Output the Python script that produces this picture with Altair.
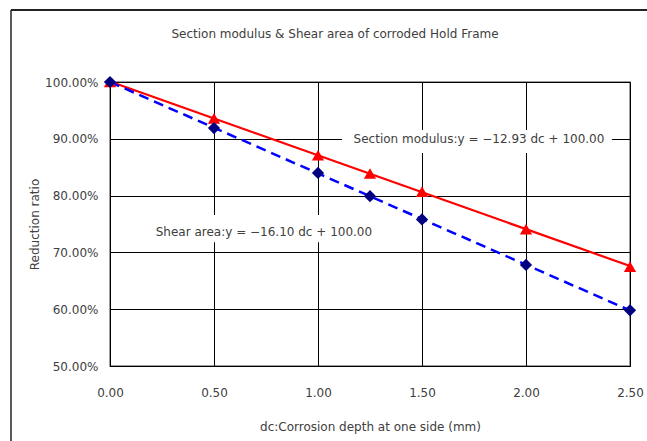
import altair as alt
import pandas as pd

# Corrosion depth at one side (mm)
dc = [0.0, 0.5, 1.0, 1.25, 1.5, 2.0, 2.5]
# Reduction ratio (%) of each property
section_modulus = [100.0, 93.6, 87.1, 83.9, 80.7, 74.1, 67.5]
shear_area = [100.0, 91.9, 84.0, 79.9, 75.8, 67.8, 59.8]

series_names = ["Section modulus", "Shear area"]
fit_labels = ["Section modulus:y = −12.93 dc + 100.00",
              "Shear area:y = −16.10 dc + 100.00"]

df = pd.DataFrame({
    "dc": dc * 2,
    "ratio": section_modulus + shear_area,
    "series": [series_names[0]] * len(dc) + [series_names[1]] * len(dc),
})
one_row = pd.DataFrame({"k": [0]})

FONT = "DejaVu Sans"
TEXT = "#404040"
W, H = 520, 284

x_scale = alt.Scale(domain=[0, 2.5], nice=False)
y_scale = alt.Scale(domain=[50, 100], nice=False)

x_enc = alt.X("dc:Q", scale=x_scale,
              axis=alt.Axis(values=[0, 0.5, 1.0, 1.5, 2.0, 2.5], format=".2f",
                            title="dc:Corrosion depth at one side (mm)",
                            grid=True, gridColor="black", gridOpacity=1,
                            domainColor="black", tickSize=0, labelPadding=21,
                            labelFontSize=12, labelColor=TEXT, labelFont=FONT,
                            titleFont=FONT, titleFontSize=12, titleFontWeight="normal",
                            titleColor=TEXT, titlePadding=23, labelFlush=False))
y_enc = alt.Y("ratio:Q", scale=y_scale,
              axis=alt.Axis(values=[50, 60, 70, 80, 90, 100],
                            labelExpr="format(datum.value, '.2f') + '%'",
                            title="Reduction ratio",
                            grid=True, gridColor="black", gridOpacity=1,
                            domainColor="black", tickSize=0, labelPadding=12,
                            labelFontSize=12, labelColor=TEXT, labelFont=FONT,
                            titleFont=FONT, titleFontSize=12, titleFontWeight="normal",
                            titleColor=TEXT, titlePadding=3, labelFlush=False))

base = alt.Chart(df)

red = base.transform_filter(alt.datum.series == series_names[0])
blue = base.transform_filter(alt.datum.series == series_names[1])

# linear trend lines through each series
red_fit = red.transform_regression("dc", "ratio").mark_line(
    color="#FF0000", strokeWidth=2.2).encode(x=x_enc, y=y_enc)
blue_fit = blue.transform_regression("dc", "ratio").mark_line(
    color="#0000FF", strokeWidth=2.5, strokeDash=[10, 6]).encode(x=x_enc, y=y_enc)

red_pts = red.mark_point(shape="triangle-up", filled=True, size=150,
                         color="#FF0000", opacity=1).encode(x=x_enc, y=y_enc)
blue_pts = blue.mark_point(shape="diamond", filled=True, size=150,
                           color="#000080", opacity=1).encode(x=x_enc, y=y_enc)

# white boxes behind the equation labels
box_df = pd.DataFrame({
    "x1": [1.115, 0.159], "x2": [2.413, 1.3125],
    "y1": [87.5, 71.8], "y2": [91.55, 76.6],
})
boxes = alt.Chart(box_df).mark_rect(color="white").encode(
    x=alt.X("x1:Q", scale=x_scale), x2="x2:Q",
    y=alt.Y("y1:Q", scale=y_scale), y2="y2:Q")

lab_df = pd.DataFrame({"x": [1.774, 0.74], "y": [89.96, 73.6], "text": fit_labels})
labels = alt.Chart(lab_df).mark_text(font=FONT, fontSize=12, color=TEXT).encode(
    x=alt.X("x:Q", scale=x_scale), y=alt.Y("y:Q", scale=y_scale), text="text:N")

# chart title and outer frame edges
title = alt.Chart(one_row).mark_text(font=FONT, fontSize=12, color=TEXT,
                                     fontWeight="normal").encode(
    x=alt.value(225), y=alt.value(-48),
    text=alt.value("Section modulus & Shear area of corroded Hold Frame"))
frame_top = alt.Chart(one_row).mark_rule(color="#222", strokeWidth=2).encode(
    x=alt.value(-99), x2=alt.value(W + 17), y=alt.value(-72))
frame_left = alt.Chart(one_row).mark_rule(color="#222", strokeWidth=1.5).encode(
    x=alt.value(-99), y=alt.value(-72), y2=alt.value(H + 75))

chart = alt.layer(
    boxes, red_fit, blue_fit, red_pts, blue_pts, labels, title, frame_top, frame_left
).properties(
    width=W, height=H,
    autosize=alt.AutoSizeParams(type="none"),
    padding={"left": 110, "top": 82, "right": 17, "bottom": 75},
    background="white",
).configure_view(stroke="#808080", strokeWidth=1.5)

chart.save("out.html", embed_options={"renderer": "svg", "actions": False})
